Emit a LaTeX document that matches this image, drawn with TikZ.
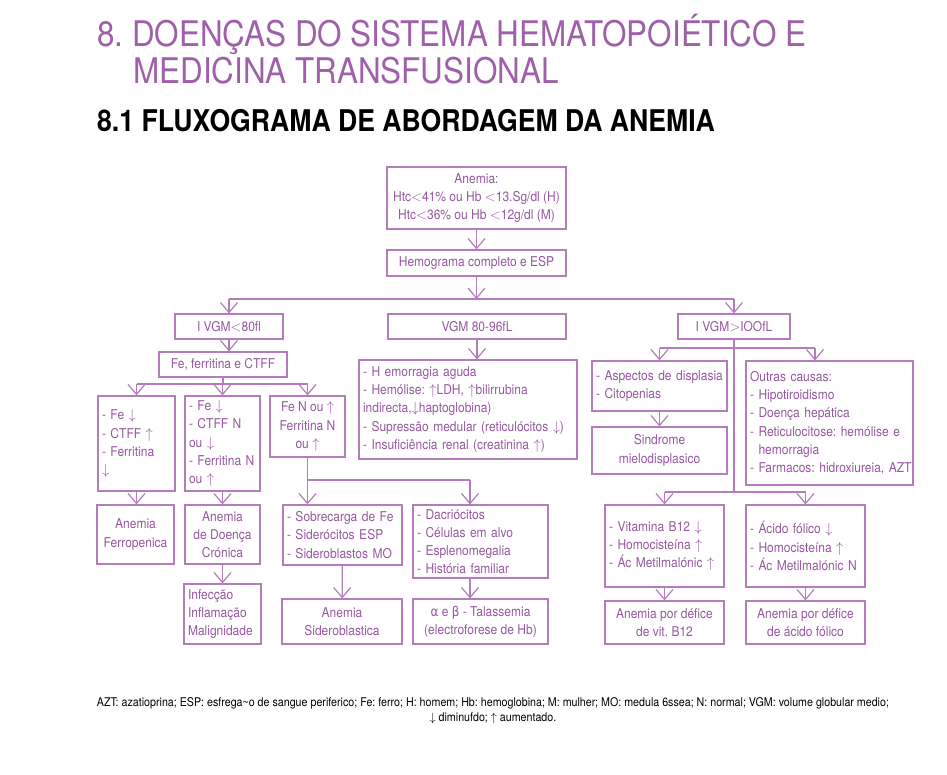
\documentclass[tikz,border=0pt]{standalone}
\usepackage{fontspec}
\setmainfont{TeX Gyre Heros}[FakeStretch=0.89]
\newfontfamily\greekfont{DejaVu Sans}[FakeStretch=0.89]
\usepackage{tikz}
\usetikzlibrary{arrows.meta,positioning}
\definecolor{titlepurple}{RGB}{158,96,168}
\definecolor{linepurple}{RGB}{180,124,188}
\definecolor{textpurple}{RGB}{150,88,160}
\newcommand{\arrup}{\ensuremath{\uparrow}}
\newcommand{\arrdn}{\ensuremath{\downarrow}}
\newcommand{\lt}{\ensuremath{<}}
\newcommand{\gt}{\ensuremath{>}}
\frenchspacing
\tikzset{
  box/.style={rectangle, draw=linepurple, line width=1.2pt, text=textpurple, align=center,
              font=\fontsize{13.5}{18.2}\selectfont, inner xsep=4pt, inner ysep=0pt},
  boxleft/.style={box, align=left},
  arrow/.style={-{Straight Barb[length=10pt,width=17pt]}, line width=1.2pt, linepurple},
  link/.style={line width=1.2pt, linepurple},
  heading/.style={anchor=base west, inner sep=0pt},
}

\begin{document}
\begin{tikzpicture}[x=1pt, y=-1pt]
\useasboundingbox[fill=white] (0,0) rectangle (947,775);
% titulos
\node[heading, text=titlepurple, font=\fontsize{35.3}{40}\selectfont] (title1) at (97,47) {8. DOENÇAS DO SISTEMA HEMATOPOIÉTICO E};
\node[heading, text=titlepurple, font=\fontsize{35.3}{40}\selectfont] (title2) at (133,84) {MEDICINA TRANSFUSIONAL};
\node[heading, font=\bfseries\fontsize{29.9}{32}\selectfont] (subtitle) at (97,132) {8.1 FLUXOGRAMA DE ABORDAGEM DA ANEMIA};

% topo
\node[box, minimum width=179pt, minimum height=62pt] (anemia) at (476.5,198) {Anemia:\\Htc\lt41\% ou Hb \lt13.Sg/dl (H)\\Htc\lt36\% ou Hb \lt12g/dl (M)};
\node[box, minimum width=179pt, minimum height=26pt] (hemo) at (476.5,263) {Hemograma completo e ESP};
\node[box, minimum width=108pt, minimum height=25pt] (vgmlow) at (229,326.5) {I VGM\lt80fl};
\node[box, minimum width=178pt, minimum height=25pt] (vgmmid) at (477,326.5) {VGM 80-96fL};
\node[box, minimum width=112pt, minimum height=25pt] (vgmhigh) at (734,326.5) {I VGM\gt IOOfL};

% microcitica
\node[box, minimum width=128pt, minimum height=25pt] (ferr) at (223,364.5) {Fe, ferritina e CTFF};
\node[boxleft, text width=69pt, minimum height=95pt] (fe1) at (136.5,443.5) {- Fe \arrdn\\- CTFF \arrup\\- Ferritina\\\arrdn};
\node[boxleft, text width=67pt, minimum height=95pt] (fe2) at (222.5,443.5) {- Fe \arrdn\\- CTFF N\\ou \arrdn\\- Ferritina N\\ou \arrup};
\node[box, minimum width=75pt, minimum height=61pt] (fe3) at (307.5,426.5) {Fe N ou \arrup\\Ferritina N\\ou \arrup};
\node[box, minimum width=77pt, minimum height=59pt] (ferrop) at (135.5,534.5) {Anemia\\Ferropenica};
\node[box, minimum width=75pt, minimum height=59pt] (adc) at (222.5,534.5) {Anemia\\de Doença\\Crónica};
\node[boxleft, text width=69pt, minimum height=60pt] (infec) at (222.5,614) {Infecção\\Inflamação\\Malignidade};
\node[boxleft, text width=111pt, minimum height=60pt] (sobrec) at (342.5,535) {- Sobrecarga de Fe\\- Siderócitos ESP\\- Sideroblastos MO};
\node[boxleft, text width=127pt, minimum height=73pt] (dacri) at (480.5,541.5) {- Dacriócitos\\- Células em alvo\\- Esplenomegalia\\- História familiar};
\node[box, minimum width=120pt, minimum height=45pt] (sidero) at (342,621.5) {Anemia\\Sideroblastica};
\node[box, minimum width=135pt, minimum height=45pt] (talass) at (480.5,621.5) {{\greekfont α} e {\greekfont β} - Talassemia\\(electroforese de Hb)};

% normocitica
\node[boxleft, text width=210pt, minimum height=99pt] (hemorr) at (468,409.5) {- H emorragia aguda\\- Hemólise: \arrup LDH, \arrup bilirrubina\\indirecta,\arrdn haptoglobina)\\- Supressão medular (reticulócitos \arrdn)\\- Insuficiência renal (creatinina \arrup)};

% macrocitica
\node[boxleft, text width=127pt, minimum height=50pt] (aspect) at (659.5,386) {- Aspectos de displasia\\- Citopenias};
\node[box, minimum width=135pt, minimum height=47pt] (sindr) at (659.5,450.5) {Sindrome\\mielodisplasico};
\node[boxleft, text width=159pt, minimum height=124pt] (outras) at (829.5,423) {Outras causas:\\- Hipotiroidismo\\- Doença hepática\\- Reticulocitose: hemólise e\\\phantom{- }hemorragia\\\mbox{- Farmacos: hidroxiureia, AZT}};
\node[boxleft, text width=111pt, minimum height=82pt] (vitb12) at (664.5,546) {- Vitamina B12 \arrdn\\- Homocisteína \arrup\\- Ác Metilmalónic \arrup};
\node[boxleft, text width=111pt, minimum height=82pt] (acfol) at (805.5,546) {- Ácido fólico \arrdn\\- Homocisteína \arrup\\- Ác Metilmalónic N};
\node[box, minimum width=119pt, minimum height=43pt] (defb12) at (664.5,622.5) {Anemia por défice\\de vit. B12};
\node[box, minimum width=119pt, minimum height=43pt] (deffol) at (805.5,622.5) {Anemia por défice\\de ácido fólico};

% legenda
\node[align=center, inner sep=0pt, font=\fontsize{12}{15}\selectfont] (notes) at (493,711) {AZT: azatioprina; ESP: esfrega\textasciitilde o de sangue periferico; Fe: ferro; H: homem; Hb: hemoglobina; M: mulher; MO: medula 6ssea; N: normal; VGM: volume globular medio;\\\arrdn{} diminufdo; \arrup{} aumentado.};

% pontos de ramificacao
\coordinate (split) at (476.5,299);
\coordinate (ferrsplit) at (223,384);
\coordinate (talsplit) at (470,480);
\coordinate (macsplit) at (734,348);
\coordinate (outrasin) at (815,348);
\coordinate (macsplit2) at (734,492);

% ligacoes
\draw[arrow] (anemia) -- (hemo);
\draw[arrow] (hemo) -- (split);
\draw[link] (split -| vgmlow) -- (split -| vgmhigh);
\draw[arrow] (split -| vgmlow) -- (vgmlow);
\draw[arrow] (split -| vgmhigh) -- (vgmhigh);
\draw[arrow] (vgmmid) -- (vgmmid |- hemorr.north);
\draw[arrow] (vgmlow) -- (vgmlow |- ferr.north);
\draw[link] (ferr) -- (ferrsplit);
\draw[link] (ferrsplit -| fe1) -- (ferrsplit -| fe3);
\foreach \b in {fe1,fe2,fe3}
  \draw[arrow] (ferrsplit -| \b) -- (\b);
\draw[arrow] (fe1) -- (fe1 |- ferrop.north);
\draw[arrow] (fe2) -- (adc);
\draw[arrow] (adc) -- (infec);
\draw[link] (fe3) -- (talsplit -| fe3) -- (talsplit);
\draw[arrow] (talsplit -| fe3) -- (fe3 |- sobrec.north);
\draw[arrow] (talsplit) -- (talsplit |- dacri.north);
\draw[arrow] (talsplit |- dacri.south) -- (talsplit |- talass.north);
\draw[arrow] (sobrec) -- (sidero);
\draw[link] (vgmhigh) -- (macsplit2);
\draw[link] (macsplit -| aspect) -- (outrasin);
\draw[arrow] (macsplit -| aspect) -- (aspect);
\draw[arrow] (outrasin) -- (outrasin |- outras.north);
\draw[arrow] (aspect) -- (sindr);
\draw[link] (macsplit2 -| vitb12) -- (macsplit2 -| acfol);
\draw[arrow] (macsplit2 -| vitb12) -- (vitb12);
\draw[arrow] (macsplit2 -| acfol) -- (acfol);
\draw[arrow] (vitb12) -- (defb12);
\draw[arrow] (acfol) -- (deffol);
\end{tikzpicture}
\end{document}
